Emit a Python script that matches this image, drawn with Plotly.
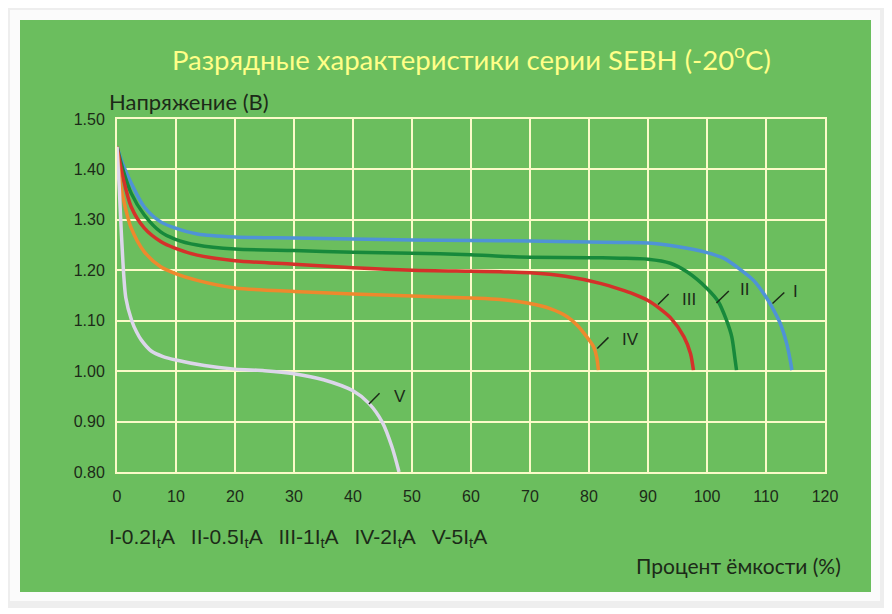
import plotly.graph_objects as go

# discharge curves, capacity (%) vs voltage (V)
cap_I = [0, 1, 2.4, 4.6, 7.4, 9.8, 13.6, 20, 30, 40, 50, 60, 70, 80, 85.3, 90, 94.9, 100, 102.8, 105.6,
         107.9, 110, 111.3, 112.4, 113.5, 114.1, 114.4]
volt_I = [1.445, 1.41, 1.373, 1.326, 1.296, 1.284, 1.272, 1.266, 1.264, 1.262, 1.260, 1.259, 1.258, 1.256, 1.255,
          1.254, 1.247, 1.235, 1.224, 1.202, 1.180, 1.147, 1.121, 1.095, 1.055, 1.022, 1.002]

cap_II = [0, 1, 2.4, 4.6, 7.4, 9.8, 13.6, 20, 30, 40, 50, 60, 65, 70, 80, 85.3, 90, 93.8, 96.6, 100, 101.9,
          103.3, 104.2, 104.7, 105]
volt_II = [1.445, 1.40, 1.353, 1.31, 1.276, 1.262, 1.25, 1.242, 1.239, 1.236, 1.234, 1.231, 1.228, 1.226, 1.225,
           1.224, 1.222, 1.214, 1.197, 1.164, 1.138, 1.101, 1.068, 1.028, 1.002]

cap_III = [0, 1, 2.4, 4.6, 7.4, 9.8, 13.6, 20, 30, 40, 50, 60, 65, 70, 76, 81.9, 85.3, 87.5, 90, 92, 93.8,
           96.1, 97.2, 97.7]
volt_III = [1.445, 1.385, 1.326, 1.284, 1.257, 1.244, 1.23, 1.219, 1.212, 1.205, 1.20, 1.198, 1.197, 1.195,
            1.188, 1.174, 1.162, 1.153, 1.140, 1.124, 1.106, 1.068, 1.035, 1.002]

cap_IV = [0, 0.6, 1.3, 2.4, 4.6, 7.4, 9.8, 13.6, 20, 30, 40, 50, 60, 65, 70, 73.4, 76.3, 78, 80, 80.8, 81.3, 81.6]
volt_IV = [1.445, 1.37, 1.33, 1.284, 1.237, 1.207, 1.194, 1.18, 1.165, 1.158, 1.153, 1.149, 1.145, 1.142, 1.134,
           1.124, 1.108, 1.091, 1.062, 1.048, 1.028, 1.002]

cap_V = [0, 0.4, 0.8, 1.5, 2.5, 3.3, 4.1, 5.8, 7.8, 10, 14.8, 20, 25, 30, 35, 40, 42.7, 45, 46.6, 47.8]
volt_V = [1.445, 1.359, 1.26, 1.145, 1.10, 1.078, 1.062, 1.040, 1.029, 1.022, 1.011, 1.004, 1.001, 0.995, 0.983,
          0.961, 0.936, 0.898, 0.85, 0.80]

curve_names = ['I', 'II', 'III', 'IV', 'V']
curve_colors = ['#4f93d6', '#17893b', '#d4312a', '#ee892d', '#dcd6ea']

# curve labels: leader line start/end and text spot (data coords)
label_line_x = [[111.1, 113.1], [101.6, 103.7], [91.7, 93.5], [81.4, 83.3], [42.7, 44.5]]
label_line_y = [[1.134, 1.156], [1.135, 1.159], [1.132, 1.153], [1.045, 1.067], [0.935, 0.956]]
label_text_x = [114.2, 105.3, 95.4, 85.3, 46.6]
label_text_y = [1.157, 1.162, 1.143, 1.062, 0.949]

x_ticks = list(range(0, 121, 10))
y_ticks = [0.8, 0.9, 1.0, 1.1, 1.2, 1.3, 1.4, 1.5]

OFF = 8  # page body margin
W, H = 892 - OFF, 614 - OFF
L, R, T, B = 117 - OFF, 825 - OFF, 119 - OFF, 472 - OFF  # plot area in figure pixels


def px(x, y):
    # page pixel -> paper fraction
    return (x - OFF - L) / (R - L), (B - (y - OFF)) / (B - T)


fig = go.Figure()

caps = [cap_I, cap_II, cap_III, cap_IV, cap_V]
volts = [volt_I, volt_II, volt_III, volt_IV, volt_V]
for name, c, xs, ys in zip(curve_names, curve_colors, caps, volts):
    fig.add_trace(go.Scatter(x=xs, y=ys, mode='lines', name=name,
                             line=dict(color=c, width=3.5, shape='spline', smoothing=0.8)))

txt = '#1c2a18'
for name, lx, ly, tx, ty in zip(curve_names, label_line_x, label_line_y, label_text_x, label_text_y):
    fig.add_trace(go.Scatter(x=lx, y=ly, mode='lines', line=dict(color=txt, width=1.5),
                             hoverinfo='skip'))
    fig.add_annotation(x=tx, y=ty, text=name, showarrow=False, xanchor='left', yanchor='middle',
                       font=dict(family='Liberation Sans, Arial', size=17, color=txt))

# frame: grey border, white mat, green panel
shapes = []
for (x0, y0, x1, y1, col) in [(4, 4, 887, 608, '#eeeeee'), (10, 10, 880, 601, '#fbfbfb'),
                              (20, 20, 871, 592, '#6bbe5e')]:
    a0, b1 = px(x0, y0)
    a1, b0 = px(x1, y1)
    shapes.append(dict(type='rect', xref='paper', yref='paper', x0=a0, x1=a1, y0=b0, y1=b1,
                       fillcolor=col, line=dict(width=0), layer='below'))


def note(x, y, text, anchor, font):
    ax, ay = px(x, y)
    fig.add_annotation(x=ax, y=ay, xref='paper', yref='paper', showarrow=False, text=text,
                       xanchor=anchor, yanchor='middle', font=font)


note(471, 58, 'Разрядные характеристики серии SEBH (-20<sup>o</sup>C)', 'center',
     dict(family='Lato', size=27.5, color='#ffff88'))
note(107, 101, 'Напряжение (B)', 'left', dict(family='Lato', size=22, color=txt))
note(843, 565, 'Процент ёмкости (%)', 'right', dict(family='Lato', size=21, color=txt))
sp = '&nbsp;&nbsp;\u2009'
note(107, 538, sp.join(['I-0.2I<sub>t</sub>A', 'II-0.5I<sub>t</sub>A', 'III-1I<sub>t</sub>A',
                        'IV-2I<sub>t</sub>A', 'V-5I<sub>t</sub>A']), 'left',
     dict(family='Liberation Sans, Arial', size=21, color=txt))

grid = '#fbfbc8'
fig.update_xaxes(range=[0, 120], tickvals=x_ticks, showgrid=True, gridcolor=grid, gridwidth=2,
                 showline=True, linecolor=grid, linewidth=2, mirror=True, zeroline=False,
                 ticks='outside', ticklen=9, tickcolor='rgba(0,0,0,0)',
                 tickfont=dict(family='Liberation Sans, Arial', size=16, color=txt))
fig.update_yaxes(range=[0.8, 1.5], tickvals=y_ticks, tickformat='.2f', showgrid=True,
                 gridcolor=grid, gridwidth=2, showline=True, linecolor=grid, linewidth=2,
                 mirror=True, zeroline=False, ticks='outside', ticklen=7,
                 tickcolor='rgba(0,0,0,0)',
                 tickfont=dict(family='Liberation Sans, Arial', size=16, color=txt))

fig.update_layout(width=W, height=H, margin=dict(l=L, r=W - R, t=T, b=H - B),
                  paper_bgcolor='white', plot_bgcolor='rgba(0,0,0,0)', showlegend=False,
                  shapes=shapes)

fig.write_html("out.html")
